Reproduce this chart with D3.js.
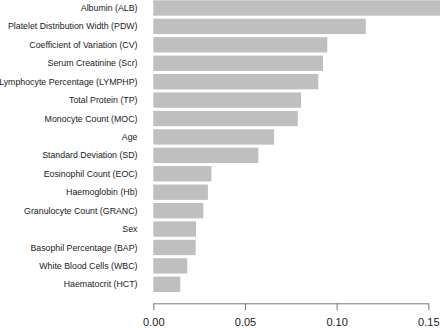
<!DOCTYPE html>
<html>
<head>
<meta charset="utf-8">
<script src="https://cdn.jsdelivr.net/npm/d3@7"></script>
<style>
  html, body { margin: 0; padding: 0; background: #fff; }
  svg { display: block; }
</style>
</head>
<body>
<svg id="chart" width="440" height="328"></svg>
<script>
const categories = [
  "Albumin (ALB)",
  "Platelet Distribution Width (PDW)",
  "Coefficient of Variation (CV)",
  "Serum Creatinine (Scr)",
  "Lymphocyte Percentage (LYMPHP)",
  "Total Protein (TP)",
  "Monocyte Count (MOC)",
  "Age",
  "Standard Deviation (SD)",
  "Eosinophil Count (EOC)",
  "Haemoglobin (Hb)",
  "Granulocyte Count (GRANC)",
  "Sex",
  "Basophil Percentage (BAP)",
  "White Blood Cells (WBC)",
  "Haematocrit (HCT)"
];
const values = [
  0.157, 0.1159, 0.0949, 0.0926, 0.0900, 0.0806, 0.0788, 0.0659,
  0.0573, 0.0317, 0.0298, 0.0273, 0.0233, 0.0231, 0.0185, 0.0147
];
const tickValues = [0, 0.05, 0.10, 0.15];

const data = categories.map((c, i) => ({ name: c, value: values[i] }));

const svg = d3.select("#chart");
const x = d3.scaleLinear().domain([0, 0.15]).range([153.3, 428.3]);
const y = d3.scaleBand().domain(categories).range([0.3, 292])
  .paddingInner(0.2 / 1.2).paddingOuter(0);

svg.append("g").selectAll("rect").data(data).join("rect")
  .attr("x", x(0))
  .attr("y", d => y(d.name))
  .attr("width", d => x(d.value) - x(0))
  .attr("height", y.bandwidth())
  .attr("fill", "#bfbfbf");

svg.append("g").selectAll("text").data(data).join("text")
  .attr("x", 137.5)
  .attr("y", d => y(d.name) + y.bandwidth() / 2)
  .attr("dy", "0.35em")
  .attr("text-anchor", "end")
  .attr("font-family", "'Liberation Sans', Arial, sans-serif")
  .attr("font-size", 8.8)
  .attr("fill", "#1a1a1a")
  .text(d => d.name);

const axis = d3.axisBottom(x).tickValues(tickValues)
  .tickFormat(d3.format(".2f")).tickSize(7).tickPadding(7.6).tickSizeOuter(0);
const gx = svg.append("g").attr("transform", "translate(0,303.3)").call(axis);
gx.select(".domain").attr("stroke", "#777").attr("stroke-width", 1);
gx.selectAll(".tick line").attr("stroke", "#777");
gx.selectAll(".tick text")
  .attr("font-family", "'Liberation Sans', Arial, sans-serif")
  .attr("font-size", 11)
  .attr("fill", "#1a1a1a");
</script>
</body>
</html>
